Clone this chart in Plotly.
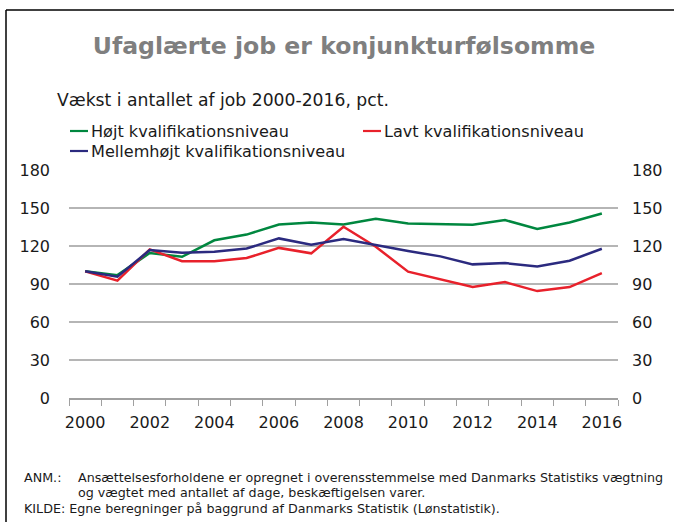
import plotly.graph_objects as go

years = list(range(2000, 2017))
hoejt = [100, 97, 114.5, 111.5, 124.5, 129, 137, 138.5, 137, 141.5, 137.8, 137.3, 136.8, 140.5, 133.4, 138.6, 145.7]
lavt = [100, 92.6, 117.3, 108, 108, 110.5, 118.5, 114.2, 135.2, 119.4, 99.7, 93.9, 87.6, 91.5, 84.4, 87.6, 98.6]
mellem = [100, 95.8, 116.8, 114.7, 115.5, 118, 126, 121, 125.5, 120.7, 116, 111.8, 105.5, 106.5, 103.9, 108.4, 117.8]

series_names = ["Højt kvalifikationsniveau", "Lavt kvalifikationsniveau", "Mellemhøjt kvalifikationsniveau"]
series_values = [hoejt, lavt, mellem]
series_colors = ["#00873f", "#e8212b", "#2b2a7f"]

x_tick_vals = list(range(2000, 2017, 2))
x_tick_text = [str(v) for v in x_tick_vals]
y_tick_vals = [0, 30, 60, 90, 120, 150, 180]

title_text = "Ufaglærte job er konjunkturfølsomme"
subtitle_text = "Vækst i antallet af job 2000-2016, pct."
note_label = "ANM.:"
note_lines = ["Ansættelsesforholdene er opregnet i overensstemmelse med Danmarks Statistiks vægtning",
              "og vægtet med antallet af dage, beskæftigelsen varer."]
source_text = "KILDE: Egne beregninger på baggrund af Danmarks Statistik (Lønstatistik)."

W, H = 674, 522
L, R, T, B = 69, 618, 170, 398
FONT = "DejaVu Sans"


def px(xp):
    return (xp - L) / (R - L)


def py(yp):
    return (B - yp) / (B - T)


fig = go.Figure()
for name, vals, col in zip(series_names, series_values, series_colors):
    fig.add_trace(go.Scatter(x=years, y=vals, mode="lines", name=name,
                             line=dict(color=col, width=2.5), showlegend=False))
# invisible trace to activate right axis
fig.add_trace(go.Scatter(x=[years[0]], y=[0], yaxis="y2", mode="markers",
                         marker=dict(opacity=0), showlegend=False, hoverinfo="skip"))

grid_col = "#b5b5b5"
axis_col = "#a0a0a0"

fig.update_layout(
    width=W, height=H,
    margin=dict(l=L, r=W - R, t=T, b=H - B),
    paper_bgcolor="white", plot_bgcolor="white",
    font=dict(family=FONT, size=16, color="#1a1a1a"),
    title=dict(text="<b>" + title_text + "</b>", x=344 / W, xanchor="center", xref="container",
               y=1 - 46 / H, yanchor="middle", yref="container",
               font=dict(family=FONT, size=23.6, color="#7f7f7f")),
    xaxis=dict(range=[1999.5, 2016.5], tickmode="array", tickvals=x_tick_vals, ticktext=x_tick_text,
               ticks="", showgrid=False, zeroline=False, showline=True, linecolor=axis_col, linewidth=1.5,
               ticklabelstandoff=9,
               minor=dict(tick0=1999.5, dtick=1, ticks="outside", ticklen=6, tickcolor=axis_col,
                          tickwidth=1.2, showgrid=False),
               tickfont=dict(size=16)),
    yaxis=dict(range=[0, 180], tickmode="array", tickvals=y_tick_vals, showgrid=True, gridcolor=grid_col,
               gridwidth=1.5, zeroline=False, showline=False, ticks="", ticklabelstandoff=18,
               tickfont=dict(size=16)),
    yaxis2=dict(range=[0, 180], tickmode="array", tickvals=y_tick_vals, overlaying="y", side="right",
                showgrid=False, zeroline=False, showline=False, ticks="", ticklabelstandoff=13,
                tickfont=dict(size=16)),
)

shapes = []
# frame lines (top and left)
shapes.append(dict(type="line", xref="paper", yref="paper", x0=px(6), x1=px(674), y0=py(10), y1=py(10),
                   line=dict(color="black", width=1.5)))
shapes.append(dict(type="line", xref="paper", yref="paper", x0=px(6), x1=px(6), y0=py(10), y1=py(522),
                   line=dict(color="black", width=1.5)))

annotations = []
annotations.append(dict(text=subtitle_text, xref="paper", yref="paper", x=px(55), y=py(100),
                        xanchor="left", yanchor="middle", showarrow=False,
                        font=dict(family=FONT, size=17.2, color="#1a1a1a")))

legend_pos = [(70, 131), (363, 131), (70, 151)]
for (lx, ly), name, col in zip(legend_pos, series_names, series_colors):
    shapes.append(dict(type="line", xref="paper", yref="paper", x0=px(lx), x1=px(lx + 18),
                       y0=py(ly), y1=py(ly), line=dict(color=col, width=2.2)))
    annotations.append(dict(text=name, xref="paper", yref="paper", x=px(lx + 19), y=py(ly),
                            xanchor="left", yanchor="middle", showarrow=False,
                            font=dict(family=FONT, size=16.1, color="#1a1a1a")))

note_font = dict(family=FONT, size=12.7, color="#1a1a1a")
annotations.append(dict(text=note_label, xref="paper", yref="paper", x=px(22), y=py(477),
                        xanchor="left", yanchor="middle", showarrow=False, font=note_font))
for line_text, ly in zip(note_lines, [477, 492.5]):
    annotations.append(dict(text=line_text, xref="paper", yref="paper", x=px(76), y=py(ly),
                            xanchor="left", yanchor="middle", showarrow=False, font=note_font))
annotations.append(dict(text=source_text, xref="paper", yref="paper", x=px(22), y=py(508),
                        xanchor="left", yanchor="middle", showarrow=False, font=note_font))

fig.update_layout(shapes=shapes, annotations=annotations)
fig.write_html("out.html", config={"displayModeBar": False},
               post_script="document.body.style.margin='0px';document.body.style.overflow='hidden';")
